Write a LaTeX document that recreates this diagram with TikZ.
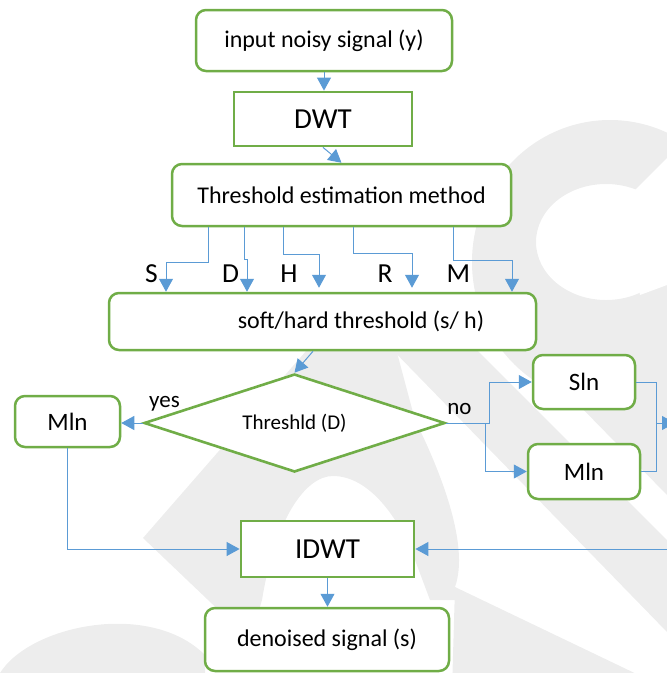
\documentclass[tikz,border=0pt]{standalone}
\usepackage{fontspec}
\setmainfont{Carlito}
\usetikzlibrary{arrows.meta,shapes.geometric}
\definecolor{grn}{HTML}{70AD47}
\definecolor{blu}{HTML}{5B9BD5}
\definecolor{wm}{HTML}{EDEDED}
\begin{document}
\begin{tikzpicture}[x=1pt,y=-1pt,
  rbox/.style={draw=grn,line width=2.5pt,rounded corners=10pt,fill=white,inner sep=0pt},
  sbox/.style={draw=grn,line width=2.8pt,fill=white,inner sep=0pt,font=\fontsize{29}{34}\selectfont},
  arr/.style={draw=blu,line width=1pt,-{Triangle[length=13pt,width=14pt]}},
  ln/.style={draw=blu,line width=1pt},
  lbl/.style={inner sep=0pt,anchor=base,font=\fontsize{27.5}{32}\selectfont},
  sml/.style={inner sep=0pt,anchor=base,font=\fontsize{23}{27}\selectfont},
  t24/.style={font=\fontsize{24}{28}\selectfont},
  t25/.style={font=\fontsize{25}{29}\selectfont}]
\useasboundingbox (0,0) rectangle (667,673);
\clip (0,0) rectangle (667,673);
% watermark
\fill[wm,even odd rule] (610,262) ellipse [x radius=138, y radius=142]
  (606,242) ellipse [x radius=70, y radius=58];
\fill[white] (625,200) -- (667,158) -- (667,285) -- (640,295) -- cycle;
\fill[wm] (383,340) -- (467,340) -- (667,540) -- (667,632) -- cycle;
\fill[wm] (520,345) -- (667,330) -- (667,495) -- cycle;
\fill[wm] (143,538) -- (320,335) -- (395,345) -- (415,420)
  .. controls (440,470) and (470,545) .. (455,587) -- (455,600) -- (430,600) -- (415,560)
  .. controls (400,520) and (370,476) .. (333,476)
  .. controls (305,476) and (275,520) .. (262,600) -- (250,640) -- cycle;
\fill[wm] (455,587) -- (670,690) -- (452,690) -- cycle;
\fill[wm] (0,673) .. controls (30,625) and (150,600) .. (205,655) -- (205,673) -- cycle;
% nodes
\node[rbox,t24,minimum width=256pt,minimum height=61pt] (in) at (324,40.5) {input noisy signal (y)};
\node[sbox,minimum width=178pt,minimum height=54pt] (dwt) at (323,119) {DWT};
\node[rbox,t24,minimum width=339pt,minimum height=62pt] (tem) at (341.5,195) {Threshold estimation method};
\node[rbox,t24,minimum width=427pt,minimum height=57pt] (soft) at (322.5,321.5) {\hspace*{77pt}soft/hard threshold (s/ h)};
\node[diamond,aspect=3,draw=grn,line width=2.6pt,fill=white,inner sep=0pt,minimum width=301pt,minimum height=98pt,
  font=\fontsize{21}{25}\selectfont] (dia) at (294.5,423) {Threshld (D)};
\node[rbox,t25,minimum width=105pt,minimum height=51pt] (mlnL) at (67.5,421.5) {Mln};
\node[rbox,t25,minimum width=102pt,minimum height=54pt] (sln) at (584,382) {Sln};
\node[rbox,t25,minimum width=112pt,minimum height=55pt] (mlnR) at (584,471.5) {Mln};
\node[sbox,minimum width=173pt,minimum height=56pt] (idwt) at (327.5,549) {IDWT};
\node[rbox,t24,minimum width=244pt,minimum height=63pt] (den) at (327,639.5) {denoised signal (s)};
% labels
\node[lbl] (lS) at (151.5,282) {S};
\node[lbl] (lD) at (230.5,282) {D};
\node[lbl] (lH) at (289,282) {H};
\node[lbl] (lR) at (385,282) {R};
\node[lbl] (lM) at (458.5,282) {M};
\node[sml] (lyes) at (164.5,407) {yes};
\node[sml] (lno) at (459.5,414) {no};
% coordinates off the right edge
\coordinate (mrg) at (656.5,423);
\coordinate (offR) at (675,423);
\coordinate (offB) at (690,549);
% connectors
\draw[arr] (in.south) -- (in.south |- dwt.north);
\draw[arr] (dwt.south) -- (tem.north);
\draw[arr] ([xshift=-133.5pt]tem.south) -- ++(0,35) -| ([xshift=-156.5pt]soft.north);
\draw[arr] ([xshift=-97.5pt]tem.south) -- ++(0,32) -| ([xshift=-75.5pt]soft.north);
\draw[arr] ([xshift=-58.5pt]tem.south) -- ++(0,27) -| ([xshift=-3.5pt,yshift=4pt]soft.north);
\draw[arr] ([xshift=11.5pt]tem.south) -- ++(0,26) -| ([xshift=89.5pt,yshift=4pt]soft.north);
\draw[arr] ([xshift=111.5pt]tem.south) -- ++(0,33) -| ([xshift=189.5pt]soft.north);
\draw[arr] ([xshift=-9.5pt]soft.south) -- (dia.north);
\draw[arr] (dia.west) -- (dia.west -| mlnL.east);
\draw[arr] (dia.east) -- ++(43,0) |- (sln.west);
\draw[arr] (dia.east) -- ++(39,0) |- (mlnR.west);
\draw[ln] (sln.east) -| (mrg);
\draw[ln] (mlnR.east) -| (mrg);
\draw[arr] (mrg) -- (offR);
\draw[arr] (mlnL.south) |- (idwt.west);
\draw[arr] (offB) -- (idwt.east);
\draw[arr] (idwt.south) -- (idwt.south |- den.north);
\end{tikzpicture}
\end{document}
